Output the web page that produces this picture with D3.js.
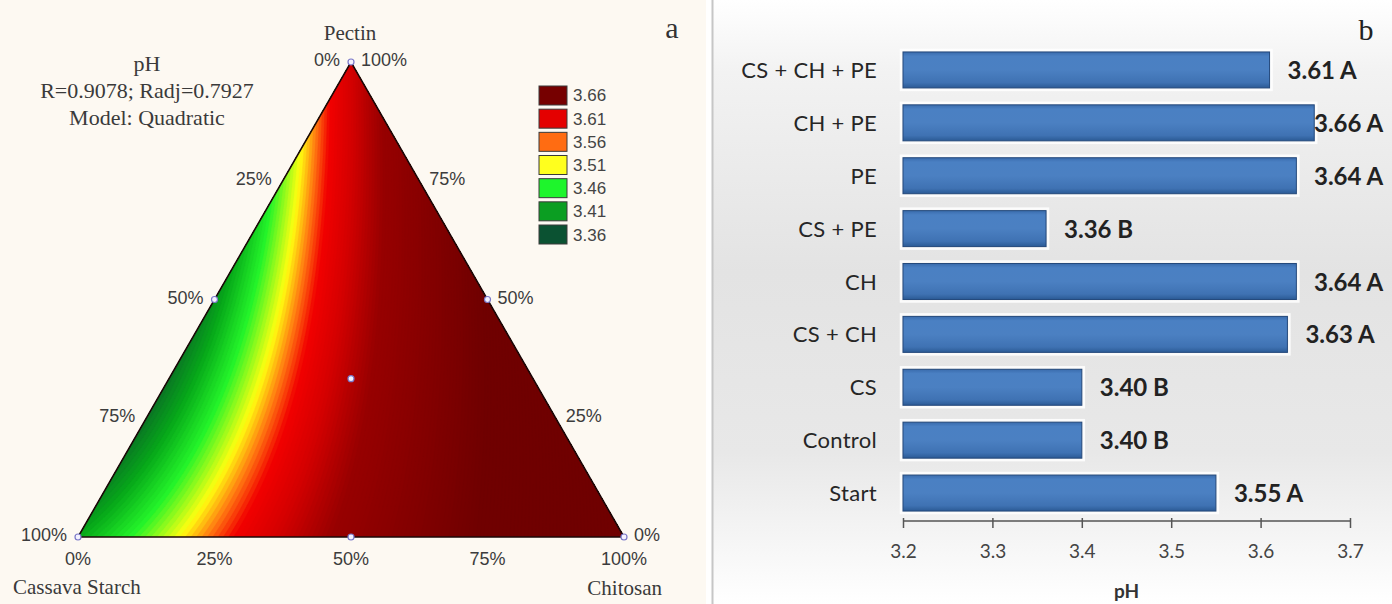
<!DOCTYPE html>
<html>
<head>
<meta charset="utf-8">
<script src="https://cdn.jsdelivr.net/npm/d3@7/dist/d3.min.js"></script>
<style>
  html, body { margin: 0; padding: 0; background: #ffffff; }
  svg { display: block; }
</style>
</head>
<body>
<svg id="chart" width="1392" height="604"></svg>
<script>
// ---------- data ----------
// Panel a: quadratic Scheffé mixture model for pH (CS = cassava starch, CH = chitosan, PE = pectin)
const modelTerms = ["CS", "CH", "PE", "CS*CH", "CS*PE", "CH*PE"];
const modelCoefs = [3.41, 4.15, 3.62, -0.25, -0.48, 0.10];
const modelInfo = ["pH", "R=0.9078; Radj=0.7927", "Model: Quadratic"];
const legendLevels = [3.66, 3.61, 3.56, 3.51, 3.46, 3.41, 3.36];
const legendColors = ["#760000", "#e40000", "#ff6c12", "#ffff1e", "#1ef52c", "#0b9e22", "#0b5232"];
const edgeTicks = [0, 25, 50, 75, 100];
// design points as (CS, CH, PE) fractions
const designPoints = [[1, 0, 0], [0, 1, 0], [0, 0, 1], [0.5, 0.5, 0], [0.5, 0, 0.5], [0, 0.5, 0.5], [1 / 3, 1 / 3, 1 / 3]];

// Panel b: pH by treatment
const categories = ["CS + CH + PE", "CH + PE", "PE", "CS + PE", "CH", "CS + CH", "CS", "Control", "Start"];
const phValues = [3.61, 3.66, 3.64, 3.36, 3.64, 3.63, 3.40, 3.40, 3.55];
const groupLetters = ["A", "A", "A", "B", "A", "A", "B", "B", "A"];
const xTicks = [3.2, 3.3, 3.4, 3.5, 3.6, 3.7];

// ---------- setup ----------
const svg = d3.select("#chart");
const W = 1392, H = 604;
const defs = svg.append("defs");

// ================= Panel a: ternary contour =================
svg.append("rect").attr("x", 0).attr("y", 0).attr("width", 706).attr("height", H).attr("fill", "#fdf9f2");

const V_CS = [78, 537], V_CH = [624, 537], V_PE = [351, 62];
const toXY = (a, b, c) => [a * V_CS[0] + b * V_CH[0] + c * V_PE[0], a * V_CS[1] + b * V_CH[1] + c * V_PE[1]];
const model = (a, b, c) => {
  const t = [a, b, c, a * b, a * c, b * c];
  return d3.sum(t, (v, i) => v * modelCoefs[i]);
};

// continuous colour ramp for the response surface
const fieldColor = d3.scaleLinear()
  .domain([3.36, 3.41, 3.46, 3.51, 3.54, 3.57, 3.62, 3.69, 3.90])
  .range(["#0b6428", "#07a81a", "#25f52a", "#ffff10", "#ff7a12", "#f20000", "#d40000", "#980000", "#700000"])
  .clamp(true);

// sample the model on a grid covering the triangle
const cell = 2;
const gx0 = V_CS[0] - 4, gy0 = V_PE[1] - 4;
const nx = Math.ceil((V_CH[0] - V_CS[0] + 8) / cell), ny = Math.ceil((V_CS[1] - V_PE[1] + 8) / cell);
const grid = new Float64Array(nx * ny);
for (let j = 0; j < ny; j++) {
  for (let i = 0; i < nx; i++) {
    const px = gx0 + (i + 0.5) * cell, py = gy0 + (j + 0.5) * cell;
    const c = (V_CS[1] - py) / (V_CS[1] - V_PE[1]);
    const b = (px - V_CS[0] - (V_PE[0] - V_CS[0]) * c) / (V_CH[0] - V_CS[0]);
    const a = 1 - b - c;
    grid[j * nx + i] = model(a, b, c);
  }
}
const step = 0.006;
const thresholds = d3.range(3.30, 4.20, step);
const contours = d3.contours().size([nx, ny]).thresholds(thresholds)(grid);
const proj = d3.geoIdentity().scale(cell).translate([gx0, gy0]);
const cpath = d3.geoPath(proj);

const triD = "M" + [V_CS, V_CH, V_PE].map(p => p.join(",")).join("L") + "Z";
defs.append("clipPath").attr("id", "tri-clip").append("path").attr("d", triD);

const fieldG = svg.append("g").attr("clip-path", "url(#tri-clip)");
fieldG.append("path").attr("d", triD).attr("fill", fieldColor(3.30));
fieldG.selectAll("path.band").data(contours).join("path")
  .attr("class", "band")
  .attr("d", cpath)
  .attr("fill", d => fieldColor(d.value + step / 2))
  .attr("stroke", d => fieldColor(d.value + step / 2))
  .attr("stroke-width", 0.4);

// triangle outline
svg.append("path").attr("d", triD)
  .attr("fill", "none").attr("stroke", "#1c0808").attr("stroke-width", 1.6);

// design point markers
svg.selectAll("circle.dp").data(designPoints).join("circle")
  .attr("class", "dp")
  .attr("cx", d => toXY(...d)[0]).attr("cy", d => toXY(...d)[1])
  .attr("r", 3).attr("fill", "#f4f2ff").attr("stroke", "#7a78c8").attr("stroke-width", 1.2);

// edge tick labels
const tickFont = "'Liberation Sans', Arial, sans-serif";
const tickG = svg.append("g").attr("font-family", tickFont).attr("font-size", 18).attr("fill", "#3c3c3c");
// Chitosan along the base
tickG.selectAll("text.chi").data(edgeTicks).join("text")
  .attr("class", "chi")
  .attr("x", d => toXY(1 - d / 100, d / 100, 0)[0])
  .attr("y", V_CS[1] + 28)
  .attr("text-anchor", "middle")
  .text(d => d + "%");
// Cassava starch along the left edge
tickG.selectAll("text.cas").data(edgeTicks).join("text")
  .attr("class", "cas")
  .attr("x", d => toXY(d / 100, 0, 1 - d / 100)[0] - 11)
  .attr("y", d => toXY(d / 100, 0, 1 - d / 100)[1] + 4)
  .attr("text-anchor", "end")
  .text(d => d + "%");
// Pectin along the right edge
tickG.selectAll("text.pec").data(edgeTicks).join("text")
  .attr("class", "pec")
  .attr("x", d => toXY(0, 1 - d / 100, d / 100)[0] + 10)
  .attr("y", d => toXY(0, 1 - d / 100, d / 100)[1] + 4)
  .attr("text-anchor", "start")
  .text(d => d + "%");

// component names, model info and panel letter
const serif = "'Liberation Serif', 'Times New Roman', serif";
const nameG = svg.append("g").attr("font-family", serif).attr("font-size", 21).attr("fill", "#3a3a3a");
nameG.append("text").attr("x", 350).attr("y", 40).attr("text-anchor", "middle").text("Pectin");
nameG.append("text").attr("x", 13).attr("y", 594).attr("text-anchor", "start").text("Cassava Starch");
nameG.append("text").attr("x", 662).attr("y", 595).attr("text-anchor", "end").text("Chitosan");
nameG.selectAll("text.info").data(modelInfo).join("text")
  .attr("class", "info")
  .attr("x", 147).attr("y", (d, i) => 71 + i * 27)
  .attr("font-size", 22)
  .attr("text-anchor", "middle").text(d => d);
svg.append("text").attr("x", 672).attr("y", 38).attr("text-anchor", "middle")
  .attr("font-family", serif).attr("font-size", 30).attr("fill", "#333").text("a");

// legend
const legG = svg.append("g").attr("font-family", tickFont).attr("font-size", 17).attr("fill", "#444");
const legY = d3.scaleBand().domain(legendLevels).range([86, 244]).paddingInner(0.18);
legG.selectAll("rect").data(legendLevels).join("rect")
  .attr("x", 539).attr("y", d => legY(d)).attr("width", 28).attr("height", legY.bandwidth())
  .attr("fill", (d, i) => legendColors[i]).attr("stroke", "#3a3a3a").attr("stroke-width", 1);
legG.selectAll("text").data(legendLevels).join("text")
  .attr("x", 573).attr("y", d => legY(d) + legY.bandwidth() / 2 + 6)
  .text(d => d.toFixed(2));

// ================= Panel b: bar chart =================
const bgGrad = defs.append("linearGradient").attr("id", "bg-grad").attr("x1", 0).attr("y1", 0).attr("x2", 0).attr("y2", 1);
[[0, "#ffffff"], [0.12, "#f2f2f2"], [0.45, "#e3e3e3"], [0.75, "#e8e8e8"], [1, "#ffffff"]]
  .forEach(([o, c]) => bgGrad.append("stop").attr("offset", o).attr("stop-color", c));
svg.append("rect").attr("x", 712).attr("y", 0).attr("width", W - 712).attr("height", H).attr("fill", "url(#bg-grad)");
svg.append("line").attr("x1", 712.5).attr("x2", 712.5).attr("y1", 0).attr("y2", H)
  .attr("stroke", "#c6c6c6").attr("stroke-width", 2);

const barGrad = defs.append("linearGradient").attr("id", "bar-grad").attr("x1", 0).attr("y1", 0).attr("x2", 0).attr("y2", 1);
[[0, "#3a6cad"], [0.12, "#4a80c3"], [0.5, "#4b80c2"], [0.85, "#3f72b3"], [1, "#2b5a95"]]
  .forEach(([o, c]) => barGrad.append("stop").attr("offset", o).attr("stop-color", c));

const x = d3.scaleLinear().domain([3.2, 3.7]).range([903, 1350]);
const y = d3.scaleBand().domain(categories).range([43.5, 519.5]).paddingInner(0.32).paddingOuter(0.16);

const barG = svg.append("g");
// soft light halo around each bar
barG.selectAll("rect.halo").data(categories).join("rect")
  .attr("class", "halo")
  .attr("x", x(3.2) - 2).attr("y", d => y(d) - 2)
  .attr("width", (d, i) => x(phValues[i]) - x(3.2) + 4).attr("height", y.bandwidth() + 4)
  .attr("fill", "none").attr("stroke", "#ffffff").attr("stroke-opacity", 0.85).attr("stroke-width", 2.5);
barG.selectAll("rect.bar").data(categories).join("rect")
  .attr("class", "bar")
  .attr("x", x(3.2)).attr("y", d => y(d))
  .attr("width", (d, i) => x(phValues[i]) - x(3.2)).attr("height", y.bandwidth())
  .attr("fill", "url(#bar-grad)").attr("stroke", "#24497c").attr("stroke-width", 1);

const sans = "Lato, 'Open Sans', sans-serif";
// category labels
svg.append("g").selectAll("text").data(categories).join("text")
  .attr("x", 877).attr("y", d => y(d) + y.bandwidth() / 2 + 8)
  .attr("text-anchor", "end").attr("font-family", sans).attr("font-size", 22)
  .attr("letter-spacing", 0.3).attr("fill", "#262626")
  .text(d => d);
// value labels (kept inside the chart area)
svg.append("g").selectAll("text").data(categories).join("text")
  .attr("x", (d, i) => Math.min(x(phValues[i]) + 18, 1314))
  .attr("y", d => y(d) + y.bandwidth() / 2 + 9)
  .attr("font-family", sans).attr("font-size", 24).attr("font-weight", "bold").attr("fill", "#222")
  .text((d, i) => phValues[i].toFixed(2) + " " + groupLetters[i]);

// x axis
const axis = svg.append("g").attr("transform", "translate(0,521)")
  .call(d3.axisBottom(x).tickValues(xTicks).tickFormat(d3.format(".1f")).tickSize(7).tickPadding(17));
axis.select(".domain").attr("stroke", "#555").attr("stroke-width", 1.5).attr("d", `M${x(3.2)},0H${x(3.7)}`);
axis.selectAll(".tick line").attr("stroke", "#555").attr("stroke-width", 1.5).attr("y1", -3);
axis.selectAll(".tick text").attr("font-family", sans).attr("font-size", 19).attr("fill", "#444");
svg.append("text").attr("x", (x(3.2) + x(3.7)) / 2).attr("y", 598).attr("text-anchor", "middle")
  .attr("font-family", sans).attr("font-size", 19).attr("font-weight", "bold").attr("fill", "#333").text("pH");

svg.append("text").attr("x", 1366).attr("y", 40).attr("text-anchor", "middle")
  .attr("font-family", serif).attr("font-size", 30).attr("fill", "#222").text("b");
</script>
</body>
</html>
